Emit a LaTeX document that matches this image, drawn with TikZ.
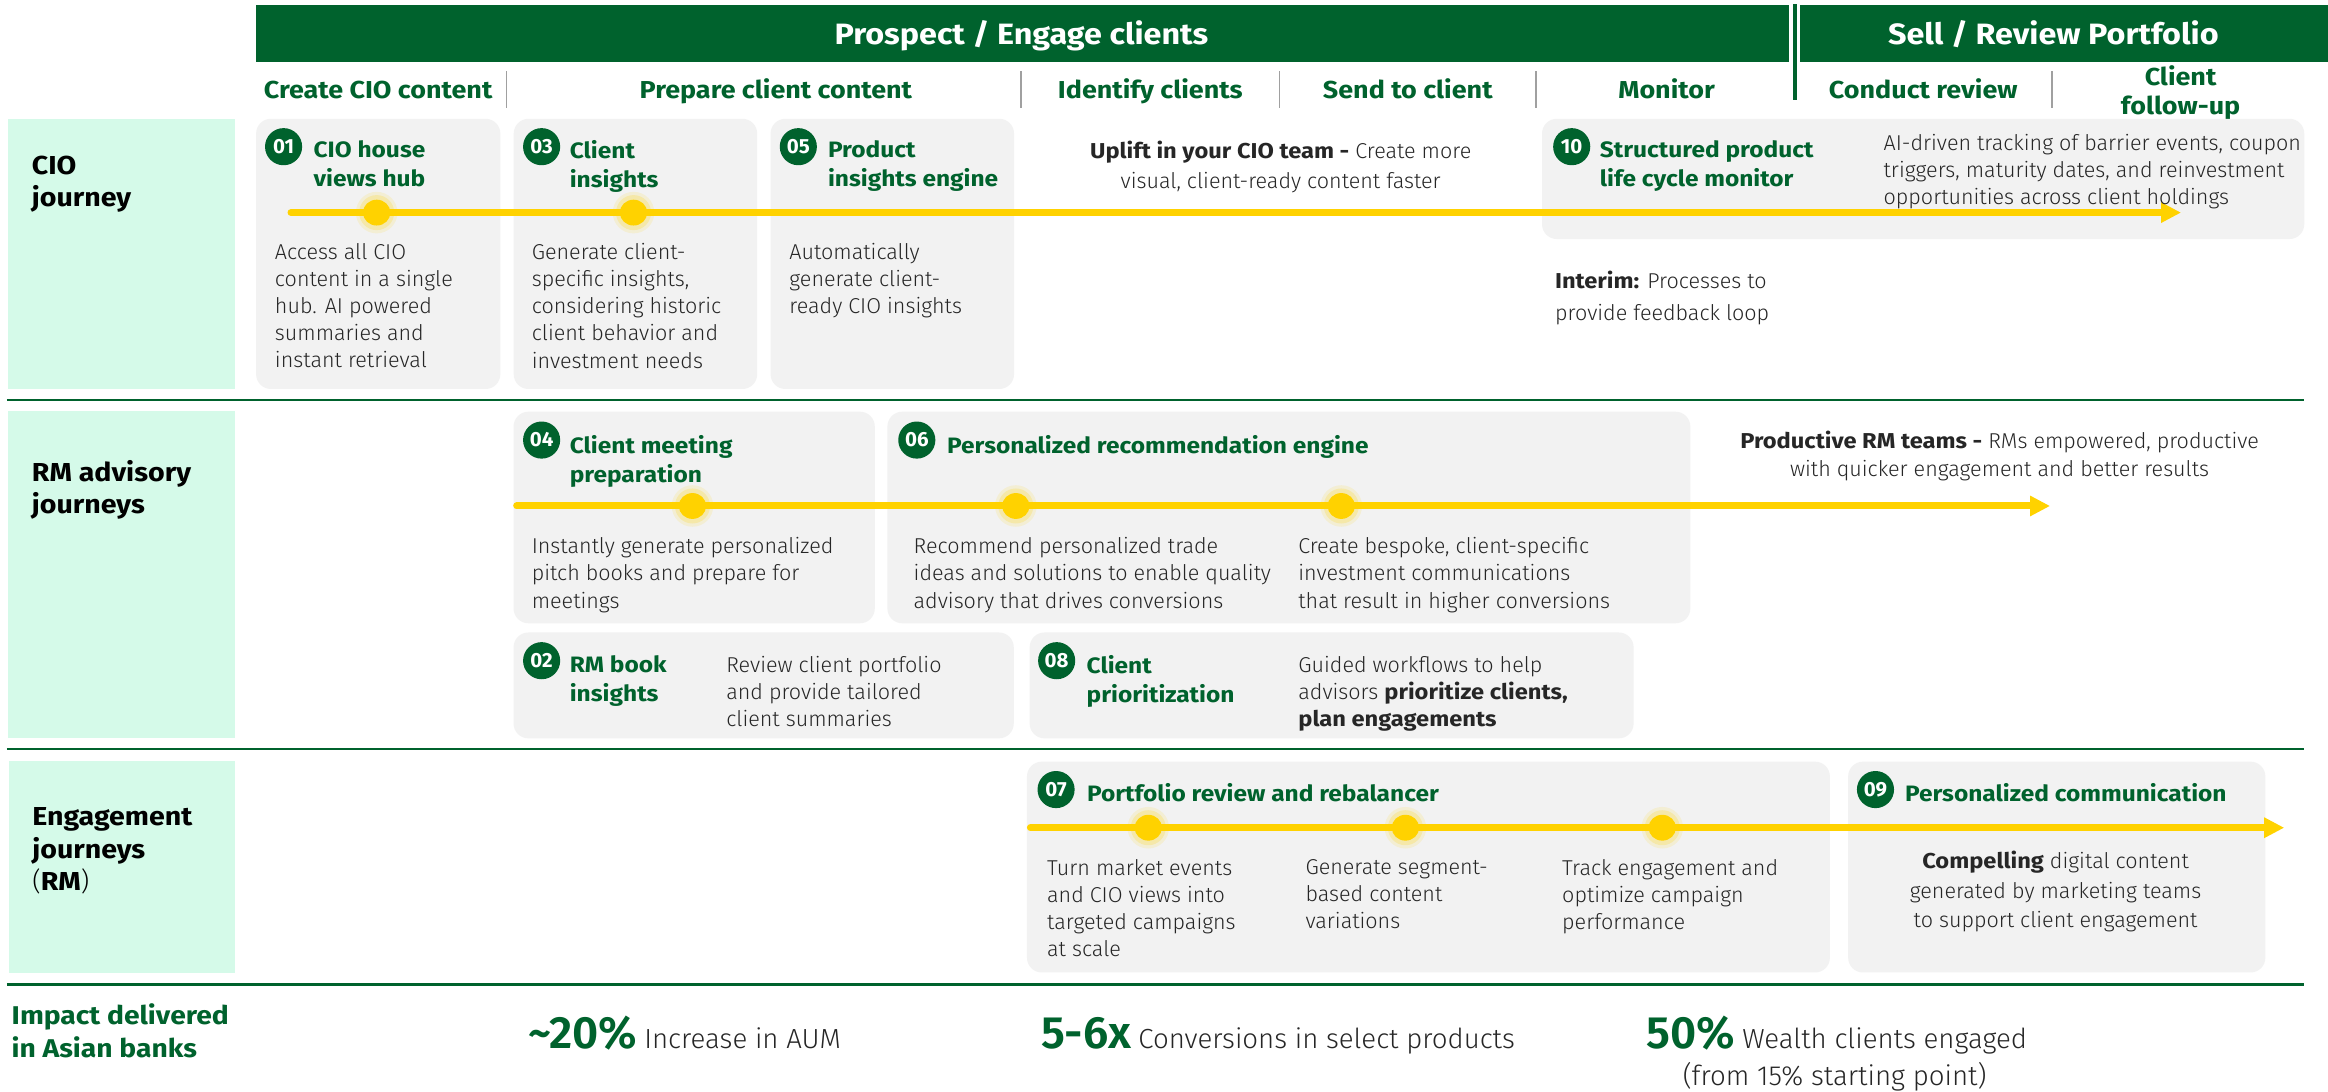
\documentclass[tikz,border=0pt]{standalone}
\usepackage{fontspec}
\setmainfont{Fira Sans}
\IfFontExistsTF{Fira Sans Light}{\newfontfamily\lightf{Fira Sans Light}}{\newfontfamily\lightf{Fira Sans}}
\newfontfamily\hbfam{Fira Sans}[FakeStretch=1.1]
\newcommand\hbf{\hbfam\bfseries}
\usetikzlibrary{arrows.meta}
\definecolor{dkgreen}{RGB}{0,98,45}
\definecolor{mint}{RGB}{213,250,233}
\definecolor{cardgray}{RGB}{242,242,242}
\definecolor{yel}{RGB}{255,210,0}
\definecolor{bodytxt}{RGB}{38,38,38}
\definecolor{sepgray}{RGB}{160,160,160}
\newcommand\fsz[2]{\fontsize{#1}{#2}\selectfont}
\tikzset{
  card/.style={fill=cardgray, rounded corners=10pt},
  lanebox/.style={fill=mint},
  rule/.style={draw=dkgreen, line width=1.6pt},
  sep/.style={draw=sepgray, line width=1.2pt},
  badge/.style={circle, fill=dkgreen, text=white, inner sep=0pt, minimum size=25pt, font=\bfseries\fsz{13.8}{14}},
  ttl/.style={anchor=north west, inner sep=0pt, align=left, text=dkgreen, font=\hbf\fsz{15}{19.5}},
  body/.style={anchor=north west, inner sep=0pt, align=left, text=bodytxt, font=\lightf\fsz{14.5}{18.3}},
  colhd/.style={anchor=base, inner sep=0pt, text=dkgreen, font=\hbf\fsz{16.5}{19.1}},
  barhd/.style={anchor=base, inner sep=0pt, text=white, font=\hbf\fsz{19.8}{24}},
  lanelbl/.style={anchor=north west, inner sep=0pt, align=left, text=black, font=\hbf\fsz{17.5}{22}},
  stat/.style={anchor=base west, inner sep=0pt, text=bodytxt, font=\lightf\fsz{18.6}{22}},
  timeline/.style={draw=yel, line width=4.7pt, line cap=round, -{Triangle[length=13.5pt,width=13pt]}},
  glowdot/.pic={
    \fill[yel,opacity=0.12] (0,0) circle (14pt);
    \fill[yel,opacity=0.2] (0,0) circle (11.8pt);
    \fill[yel] (0,0) ellipse (9.2pt and 8.7pt);
  },
}
\newcommand\bign[1]{{\bfseries\fsz{30.5}{32}\color{dkgreen}#1}\hspace{5pt}}
\begin{document}
\begin{tikzpicture}[x=1pt,y=-1pt]
\useasboundingbox (0,0) rectangle (1568,735.5);
\fill[white] (0,0) rectangle (1568,735.5);
% header bars
\fill[dkgreen] (172.5,3.4) rectangle (1205.2,41.5);
\fill[dkgreen] (1212.6,3.4) rectangle (1568,41.5);
\draw[dkgreen, line width=2.3pt] (1208.9,2.7) -- (1208.9,67.3);
\node[barhd] (hpe) at (688,30.3) {Prospect / Engage clients};
\node[barhd] (hsr) at (1383,30.3) {Sell / Review Portfolio};
% column headers
\node[colhd] (ccio) at (254.7,66.2) {Create CIO content};
\node[colhd] (cpcc) at (522.6,66.2) {Prepare client content};
\node[colhd] (cidc) at (774.8,66.2) {Identify clients};
\node[colhd] (csnd) at (948.2,66.2) {Send to client};
\node[colhd] (cmon) at (1122.5,66.2) {Monitor};
\node[colhd] (ccrv) at (1295.4,66.2) {Conduct review};
\node[colhd, anchor=north, align=center] (cfu) at (1468.7,44.2) {Client\\follow-up};
\foreach \x in {341.1,687.6,861.8,1034.6,1382} \draw[sep] (\x,48) -- (\x,73);
% lane boxes and rules
\fill[lanebox] (5.7,80) rectangle (158,262);
\fill[lanebox] (5.7,276.6) rectangle (158,497);
\fill[lanebox] (6.2,512.3) rectangle (158,655.2);
\draw[rule] (4.7,269.5) -- (1552,269.5);
\draw[rule] (4.7,504.5) -- (1552,504.5);
\draw[rule] (4.7,663) -- (1552,663);
\node[lanelbl] (l1) at (21.3,104.6) {CIO\\journey};
\node[lanelbl] (l2) at (21.3,309.6) {RM advisory\\journeys};
\node[lanelbl] (l3) at (21.6,543.6) {Engagement\\journeys\\{\lightf\mdseries(}RM{\lightf\mdseries)}};
% cards
\fill[card] (172.5,80) rectangle (337,262);
\fill[card] (346,80) rectangle (510,262);
\fill[card] (519,80) rectangle (683,262);
\fill[card] (1038.6,80) rectangle (1552,161);
\fill[card] (345.9,277.3) rectangle (589.2,419.8);
\fill[card] (597.7,277.3) rectangle (1138.5,419.8);
\fill[card] (345.9,426) rectangle (682.8,497.3);
\fill[card] (693.5,426) rectangle (1100.3,497.3);
\fill[card] (691.7,513) rectangle (1232.5,655);
\fill[card] (1244.8,513) rectangle (1525.8,655);
% timelines
\coordinate (r1s) at (196,143.2); \coordinate (r1e) at (1469,143.2);
\coordinate (r2s) at (348,340.8); \coordinate (r2e) at (1380.8,340.8);
\coordinate (r3s) at (694,557.5); \coordinate (r3e) at (1538.5,557.5);
\draw[timeline] (r1s) -- (r1e);
\draw[timeline] (r2s) -- (r2e);
\draw[timeline] (r3s) -- (r3e);
\pic at (253.7,143.2) {glowdot};
\pic at (426.7,143.2) {glowdot};
\pic at (466.4,340.8) {glowdot};
\pic at (684.2,340.8) {glowdot};
\pic at (903.4,340.8) {glowdot};
\pic at (773.4,557.5) {glowdot};
\pic at (946.6,557.5) {glowdot};
\pic at (1119.6,557.5) {glowdot};
% row 1
\node[badge] (n01) at (191,98.8) {01};
\node[ttl] (t01) at (211,94.7) {CIO house\\views hub};
\node[body] (b01) at (185,163.6) {Access all CIO\\content in a single\\hub. AI powered\\summaries and\\instant retrieval};
\node[badge] (n03) at (364.8,98.8) {03};
\node[ttl] (t03) at (383.6,94.7) {Client\\insights};
\node[body] (b03) at (358,163.6) {Generate client-\\specific insights,\\considering historic\\client behavior and\\investment needs};
\node[badge] (n05) at (537.7,98.8) {05};
\node[ttl] (t05) at (557.5,94.7) {Product\\insights engine};
\node[body] (b05) at (531.5,163.6) {Automatically\\generate client-\\ready CIO insights};
\node[body, anchor=north, align=center, font=\lightf\fsz{14.5}{20}] (upl) at (862.6,94.9) {{\hbf Uplift in your CIO team -} Create more\\visual, client-ready content faster};
\node[badge] (n10) at (1058.6,98.8) {10};
\node[ttl] (t10) at (1077.4,94.7) {Structured product\\life cycle monitor};
\node[body] (b10) at (1268.5,90.3) {AI-driven tracking of barrier events, coupon\\triggers, maturity dates, and reinvestment\\opportunities across client holdings};
\node[body, font=\lightf\fsz{14.5}{21.5}] (intr) at (1047.2,182.4) {{\hbf Interim:} Processes to\\provide feedback loop};
% row 2
\node[badge] (n04) at (364.8,296.4) {04};
\node[ttl] (t04) at (383.6,293.1) {Client meeting\\preparation};
\node[body] (b04) at (358,361.9) {Instantly generate personalized\\pitch books and prepare for\\meetings};
\node[badge] (n06) at (617.5,296.4) {06};
\node[ttl] (t06) at (637.8,293.1) {Personalized recommendation engine};
\node[body] (b06a) at (615.2,361.9) {Recommend personalized trade\\ideas and solutions to enable quality\\advisory that drives conversions};
\node[body] (b06b) at (874.3,361.9) {Create bespoke, client-specific\\investment communications\\that result in higher conversions};
\node[body, anchor=north, align=center, font=\lightf\fsz{14.5}{19.3}] (prod) at (1346.8,289.9) {{\hbf Productive RM teams -} RMs empowered, productive\\with quicker engagement and better results};
\node[badge] (n02) at (364.8,445) {02};
\node[ttl] (t02) at (383.6,441.2) {RM book\\insights};
\node[body] (b02) at (489,441.7) {Review client portfolio\\and provide tailored\\client summaries};
\node[badge] (n08) at (711.7,445) {08};
\node[ttl] (t08) at (731.7,441.2) {Client\\prioritization};
\node[body] (b08) at (874.3,441.7) {Guided workflows to help\\advisors {\hbf prioritize clients,}\\{\hbf plan engagements}};
% row 3
\node[badge] (n07) at (711.3,531.8) {07};
\node[ttl] (t07) at (732,527.6) {Portfolio review and rebalancer};
\node[body] (b07a) at (705.1,578.6) {Turn market events\\and CIO views into\\targeted campaigns\\at scale};
\node[body] (b07b) at (879.1,578.6) {Generate segment-\\based content\\variations};
\node[body] (b07c) at (1052,578.6) {Track engagement and\\optimize campaign\\performance};
\node[badge] (n09) at (1263.2,531.8) {09};
\node[ttl] (t09) at (1283,527.6) {Personalized communication};
\node[body, anchor=north, align=center, font=\lightf\fsz{14.5}{20}] (b09) at (1384.5,572.9) {{\hbf Compelling} digital content\\generated by marketing teams\\to support client engagement};
% impact row
\node[lanelbl, text=dkgreen, font=\hbf\fsz{17.3}{22.5}] (imp) at (7.7,675.6) {Impact delivered\\in Asian banks};
\node[stat] (s1) at (355.6,706) {\bign{\textasciitilde 20\%}Increase in AUM};
\node[stat] (s2) at (701,706) {\bign{5-6x}Conversions in select products};
\node[stat] (s3) at (1108.6,706) {\bign{50\%}Wealth clients engaged};
\node[stat, anchor=base] (s3b) at (1235.7,731) {(from 15\% starting point)};
\end{tikzpicture}
\end{document}
